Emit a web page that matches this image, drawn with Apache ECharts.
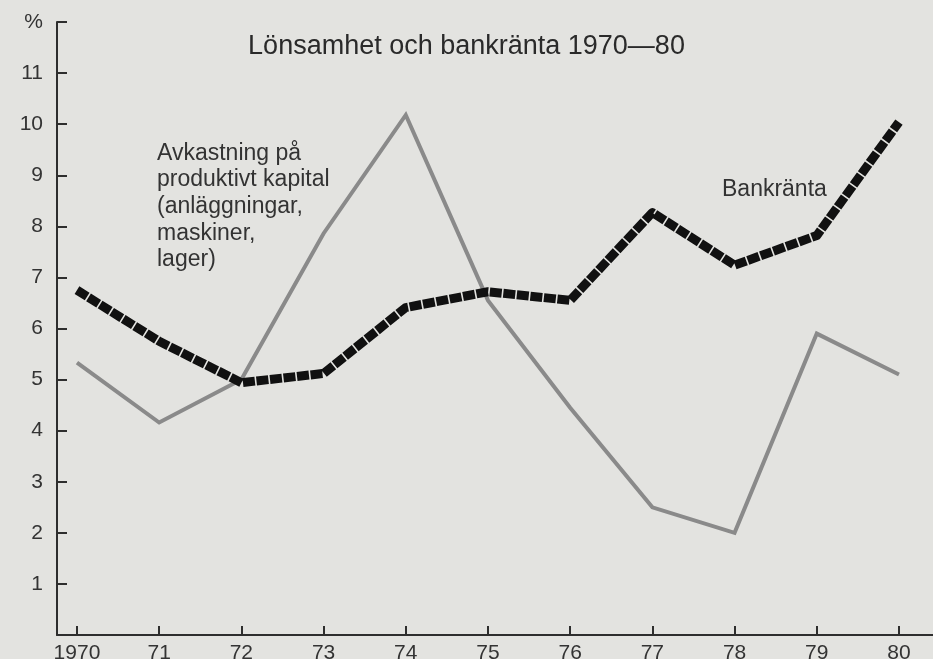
<!DOCTYPE html>
<html>
<head>
<meta charset="utf-8">
<script src="https://cdn.jsdelivr.net/npm/echarts@6/dist/echarts.min.js"></script>
<style>
html,body{margin:0;padding:0;background:#e3e3e0;}
#c{width:933px;height:659px;}
</style>
</head>
<body>
<div id="c"></div>
<script>
// Data
var years = [1970, 1971, 1972, 1973, 1974, 1975, 1976, 1977, 1978, 1979, 1980];
var yearLabels = ['1970', '71', '72', '73', '74', '75', '76', '77', '78', '79', '80'];
var avkastning = [5.33, 4.16, 5.0, 7.86, 10.18, 6.55, 4.45, 2.5, 2.0, 5.9, 5.1];
var bankranta = [6.75, 5.75, 4.94, 5.12, 6.41, 6.72, 6.55, 8.27, 7.24, 7.82, 10.04];
var yTicks = [0, 1, 2, 3, 4, 5, 6, 7, 8, 9, 10, 11, 12];
var titleText = 'Lönsamhet och bankränta 1970—80';
var avkLabel = 'Avkastning på\nproduktivt kapital\n(anläggningar,\nmaskiner,\nlager)';
var bankLabel = 'Bankränta';

function pairs(xs, ys) { return xs.map(function (x, i) { return [x, ys[i]]; }); }
var labelMap = {};
years.forEach(function (y, i) { labelMap[y] = yearLabels[i]; });

var FONT = '"Liberation Sans", Arial, Helvetica, sans-serif';
var chart = echarts.init(document.getElementById('c'), null, {renderer: 'canvas'});
chart.setOption({
  backgroundColor: '#e3e3e0',
  animation: false,
  grid: {left: 57, right: 0, top: 22, bottom: 24, containLabel: false, outerBoundsMode: 'none'},
  xAxis: {
    type: 'value',
    min: 1969.757,
    max: 1980.414,
    splitLine: {show: false},
    axisLine: {show: true, lineStyle: {color: '#2e2e2e', width: 2}},
    axisTick: {show: true, inside: true, length: 9, customValues: years, lineStyle: {color: '#2e2e2e', width: 2}},
    axisLabel: {
      show: true, customValues: years, margin: 8, fontSize: 21, color: '#333', fontFamily: FONT,
      formatter: function (v) { return labelMap[Math.round(v)] || ''; }
    }
  },
  yAxis: {
    type: 'value',
    min: 0,
    max: 12,
    interval: 1,
    splitLine: {show: false},
    axisLine: {show: true, onZero: false, lineStyle: {color: '#2e2e2e', width: 2}},
    axisTick: {show: true, inside: true, length: 10, customValues: yTicks.slice(1), lineStyle: {color: '#2e2e2e', width: 2}},
    axisLabel: {
      show: true, margin: 14, fontSize: 21, color: '#333', fontFamily: FONT,
      formatter: function (v) { return v === 0 ? '' : (v === 12 ? '%' : String(v)); }
    }
  },
  series: [
    {
      name: 'Avkastning',
      type: 'line',
      data: pairs(years, avkastning),
      symbol: 'none',
      lineStyle: {color: '#8a8a8a', width: 4, join: 'miter'},
      z: 2
    },
    {
      name: 'Bankränta',
      type: 'line',
      data: pairs(years, bankranta),
      symbol: 'none',
      lineStyle: {color: '#111', width: 9, type: [12, 1.6], cap: 'butt', join: 'round'},
      z: 3
    }
  ],
  graphic: [
    {type: 'text', left: 'center', top: 33, style: {text: titleText, fontSize: 27, fontFamily: FONT, fill: '#2a2a2a'}},
    {type: 'text', x: 157, y: 140, style: {text: avkLabel, fontSize: 23, lineHeight: 26.7, fontFamily: FONT, fill: '#333'}},
    {type: 'text', x: 722, y: 178, style: {text: bankLabel, fontSize: 23, fontFamily: FONT, fill: '#333'}}
  ]
});
</script>
</body>
</html>
